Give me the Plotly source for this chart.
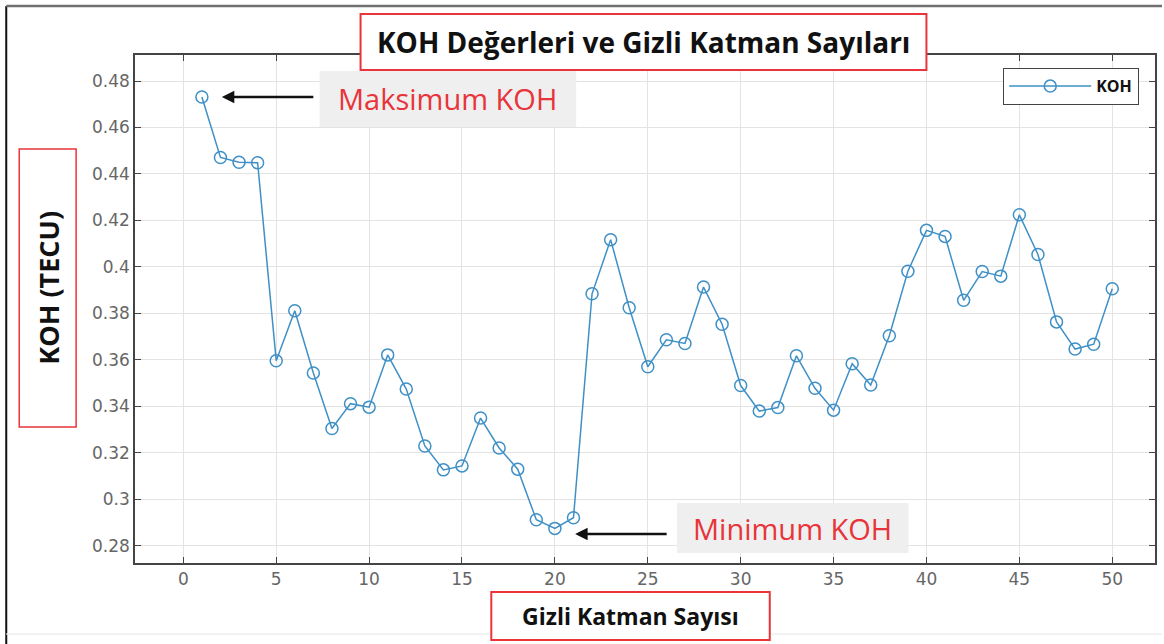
import plotly.graph_objects as go

# ---- data ----
hidden_layers = list(range(1, 51))
koh = [0.4731, 0.4471, 0.4450, 0.4448, 0.3596, 0.3811, 0.3543, 0.3304, 0.3411, 0.3396,
       0.3621, 0.3474, 0.3229, 0.3126, 0.3143, 0.3349, 0.3220, 0.3129, 0.2911, 0.2874,
       0.2920, 0.3884, 0.4117, 0.3824, 0.3570, 0.3686, 0.3670, 0.3913, 0.3753, 0.3489,
       0.3379, 0.3394, 0.3617, 0.3477, 0.3383, 0.3583, 0.3491, 0.3703, 0.3981, 0.4157,
       0.4131, 0.3856, 0.3980, 0.3960, 0.4224, 0.4053, 0.3763, 0.3646, 0.3667, 0.3906]
x_ticks = list(range(0, 51, 5))
y_ticks = [0.28, 0.30, 0.32, 0.34, 0.36, 0.38, 0.40, 0.42, 0.44, 0.46, 0.48]
y_tick_text = ["0.28", "0.3", "0.32", "0.34", "0.36", "0.38", "0.4", "0.42", "0.44", "0.46", "0.48"]

title_text = "KOH Değerleri ve Gizli Katman Sayıları"
x_title = "Gizli Katman Sayısı"
y_title = "KOH (TECU)"
max_label = "Maksimum KOH"
min_label = "Minimum KOH"

W, H = 1164, 644
L, R, T, B = 135, 1157, 55, 563


def px(x):
    return (x - L) / (R - L)


def py(y):
    return (B - y) / (B - T)


LINE_BLUE = "#3f90c6"
RED = "#e8343a"

fig = go.Figure()
fig.add_trace(go.Scatter(
    x=hidden_layers, y=koh, mode="lines+markers", name="<b>KOH</b>",
    line=dict(color=LINE_BLUE, width=1.5),
    marker=dict(symbol="circle-open", size=12, color=LINE_BLUE, line=dict(width=1.5)),
))

axis_common = dict(
    showline=True, linecolor="#444444", linewidth=1.5, mirror="allticks",
    ticks="inside", ticklen=6, tickcolor="#444444", tickwidth=1.2,
    showgrid=True, gridcolor="#e3e3e3", gridwidth=1, zeroline=False,
    tickfont=dict(family="DejaVu Sans", size=17, color="#666666"),
)

fig.update_xaxes(range=[-2.6, 52.3], tickvals=x_ticks, **axis_common)
fig.update_yaxes(range=[0.2725, 0.4912], tickvals=y_ticks, ticktext=y_tick_text, **axis_common)

shapes = []
# outer frame lines
shapes.append(dict(type="line", xref="paper", yref="paper", x0=px(6), x1=px(6), y0=py(6), y1=py(644),
                   line=dict(color="#111111", width=2), layer="above"))
shapes.append(dict(type="line", xref="paper", yref="paper", x0=px(6), x1=px(1164), y0=py(6), y1=py(6),
                   line=dict(color="#707070", width=2.5), layer="above"))
shapes.append(dict(type="line", xref="paper", yref="paper", x0=px(6), x1=px(1164), y0=py(634), y1=py(634),
                   line=dict(color="#eeeeee", width=1.5), layer="above"))


def box(x0, y0, x1, y1, fill, border=None, bw=2):
    shapes.append(dict(type="rect", xref="paper", yref="paper",
                       x0=px(x0), x1=px(x1), y0=py(y1), y1=py(y0),
                       fillcolor=fill, line=dict(color=border or fill, width=bw if border else 0),
                       layer="above"))


box(361, 14, 928, 70, "white", RED, 2)        # title box
box(19, 149, 76, 427, "white", RED, 1.5)       # y-title box
box(492, 592, 771, 640, "white", RED, 2)       # x-title box
box(320, 71, 577, 127, "#efefef")              # max label box
box(678, 503, 910, 553, "#efefef")             # min label box

annotations = [
    dict(text=f"<b>{title_text}</b>", xref="paper", yref="paper", x=px(644.5), y=py(42),
         showarrow=False, font=dict(family="Open Sans", size=28, color="#111111"),
         xanchor="center", yanchor="middle"),
    dict(text=f"<b>{y_title}</b>", xref="paper", yref="paper", x=px(47.5), y=py(288),
         showarrow=False, textangle=-90, font=dict(family="Open Sans", size=27, color="#111111"),
         xanchor="center", yanchor="middle"),
    dict(text=f"<b>{x_title}</b>", xref="paper", yref="paper", x=px(631.5), y=py(616),
         showarrow=False, font=dict(family="Open Sans", size=23, color="#111111"),
         xanchor="center", yanchor="middle"),
    dict(text=max_label, xref="paper", yref="paper", x=px(448.5), y=py(99),
         showarrow=False, font=dict(family="Open Sans", size=29, color=RED),
         xanchor="center", yanchor="middle"),
    dict(text=min_label, xref="paper", yref="paper", x=px(794), y=py(528),
         showarrow=False, font=dict(family="Open Sans", size=29, color=RED),
         xanchor="center", yanchor="middle"),
    # arrows
    dict(text="", xref="paper", yref="paper", x=px(222), y=py(97), ax=93, ay=0,
         showarrow=True, arrowhead=2, arrowsize=1, arrowwidth=2.5, arrowcolor="#111111"),
    dict(text="", xref="paper", yref="paper", x=px(576), y=py(534), ax=93, ay=0,
         showarrow=True, arrowhead=2, arrowsize=1, arrowwidth=2.5, arrowcolor="#111111"),
]

fig.update_layout(
    width=W, height=H,
    margin=dict(l=L, r=W - R, t=T, b=H - B, pad=0),
    paper_bgcolor="white", plot_bgcolor="white",
    showlegend=True,
    legend=dict(x=px(1141), y=py(68), xanchor="right", yanchor="top",
                bgcolor="white", bordercolor="#444444", borderwidth=1.2,
                itemwidth=82, font=dict(family="Open Sans", size=16, color="#111111"),
                tracegroupgap=0),
    shapes=shapes, annotations=annotations,
)

fig.write_html("out.html", config={"displayModeBar": False},
               post_script="document.body.style.margin='0';")
